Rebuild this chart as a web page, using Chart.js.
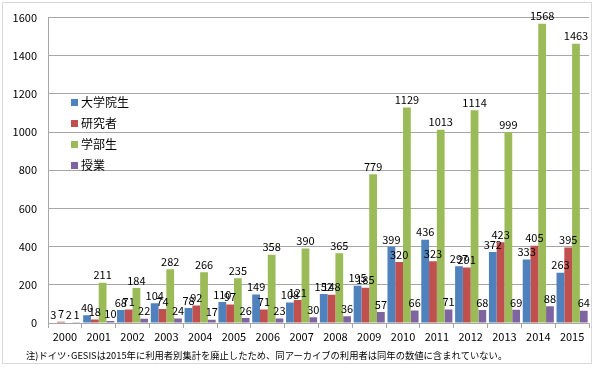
<!DOCTYPE html>
<html>
<head>
<meta charset="utf-8">
<script src="https://cdn.jsdelivr.net/npm/chart.js@4.4.0/dist/chart.umd.min.js"></script>
<style>
  html, body { margin: 0; padding: 0; background: #fff; }
  #wrap { width: 594px; height: 368px; position: relative; }
</style>
</head>
<body>
<div id="wrap"><canvas id="myChart" width="594" height="368"></canvas></div>
<script>
// 年
const years = ['2000','2001','2002','2003','2004','2005','2006','2007','2008','2009','2010','2011','2012','2013','2014','2015']
// 系列
const seriesNames = ['大学院生', '研究者', '学部生', '授業']
const graduate = [3, 40, 68, 104, 78, 110, 149, 108, 152, 195, 399, 436, 297, 372, 333, 263]
const researcher = [7, 18, 71, 74, 92, 97, 71, 121, 148, 185, 320, 323, 291, 423, 405, 395]
const undergrad = [2, 211, 184, 282, 266, 235, 358, 390, 365, 779, 1129, 1013, 1114, 999, 1568, 1463]
const classes = [1, 10, 22, 24, 17, 26, 23, 30, 36, 57, 66, 71, 68, 69, 88, 64]
const yTicks = [0, 200, 400, 600, 800, 1000, 1200, 1400, 1600]
const colors = ['#4F81BD', '#C0504D', '#9BBB59', '#8064A2']
const note = '注)ドイツ･GESISは2015年に利用者別集計を廃止したため、同アーカイブの利用者は同年の数値に含まれていない。'

const FONT = "'Noto Sans CJK JP', 'Noto Sans', sans-serif"

// ラベル・凡例・注記・枠
const extras = {
  id: 'extras',
  afterDatasetsDraw(chart) {
    const ctx = chart.ctx
    ctx.save()
    ctx.font = '11px ' + FONT
    ctx.fillStyle = '#000'
    ctx.textAlign = 'center'
    ctx.textBaseline = 'bottom'
    chart.data.datasets.forEach((ds, i) => {
      chart.getDatasetMeta(i).data.forEach((bar, j) => {
        ctx.fillText(String(ds.data[j]), bar.x, bar.y - 2)
      })
    })
    // 凡例
    ctx.textAlign = 'left'
    ctx.textBaseline = 'middle'
    ctx.font = '12px ' + FONT
    chart.data.datasets.forEach((ds, i) => {
      const y = 102 + i * 21
      ctx.fillStyle = ds.backgroundColor
      ctx.fillRect(71, y - 3, 7, 7)
      ctx.fillStyle = '#000'
      ctx.fillText(ds.label, 81, y)
    })
    // 注記
    ctx.font = '9.3px ' + FONT
    ctx.fillText(note, 26, 355)
    // 枠
    ctx.strokeStyle = '#d9d9d9'
    ctx.lineWidth = 1
    ctx.strokeRect(2.5, 2.5, 589, 361)
    ctx.restore()
  }
}

const allData = [graduate, researcher, undergrad, classes]

new Chart('myChart', {
  type: 'bar',
  data: {
    labels: years,
    datasets: seriesNames.map((name, i) => ({
      label: name,
      data: allData[i],
      backgroundColor: colors[i],
      borderWidth: 0,
      categoryPercentage: 0.92,
      barPercentage: 1.0
    }))
  },
  options: {
    responsive: false,
    animation: false,
    layout: { padding: { left: 0, right: 5, top: 15, bottom: 0 } },
    plugins: {
      legend: { display: false },
      tooltip: { enabled: false }
    },
    scales: {
      x: {
        grid: { display: true, drawOnChartArea: false, offset: true, color: '#a6a6a6', tickLength: 5 },
        border: { color: '#a6a6a6' },
        ticks: { color: '#000', font: { family: FONT, size: 11 }, maxRotation: 0, autoSkip: false, padding: 2 },
        afterFit: s => { s.height = 45 }
      },
      y: {
        min: 0,
        max: 1600,
        afterBuildTicks: s => { s.ticks = yTicks.map(v => ({ value: v })) },
        grid: { color: '#a6a6a6', lineWidth: 1, drawTicks: false },
        border: { color: '#a6a6a6' },
        ticks: { color: '#000', font: { family: FONT, size: 11 }, padding: 11, callback: v => String(v) },
        afterFit: s => { s.width = 48 }
      }
    }
  },
  plugins: [extras]
})
</script>
</body>
</html>
